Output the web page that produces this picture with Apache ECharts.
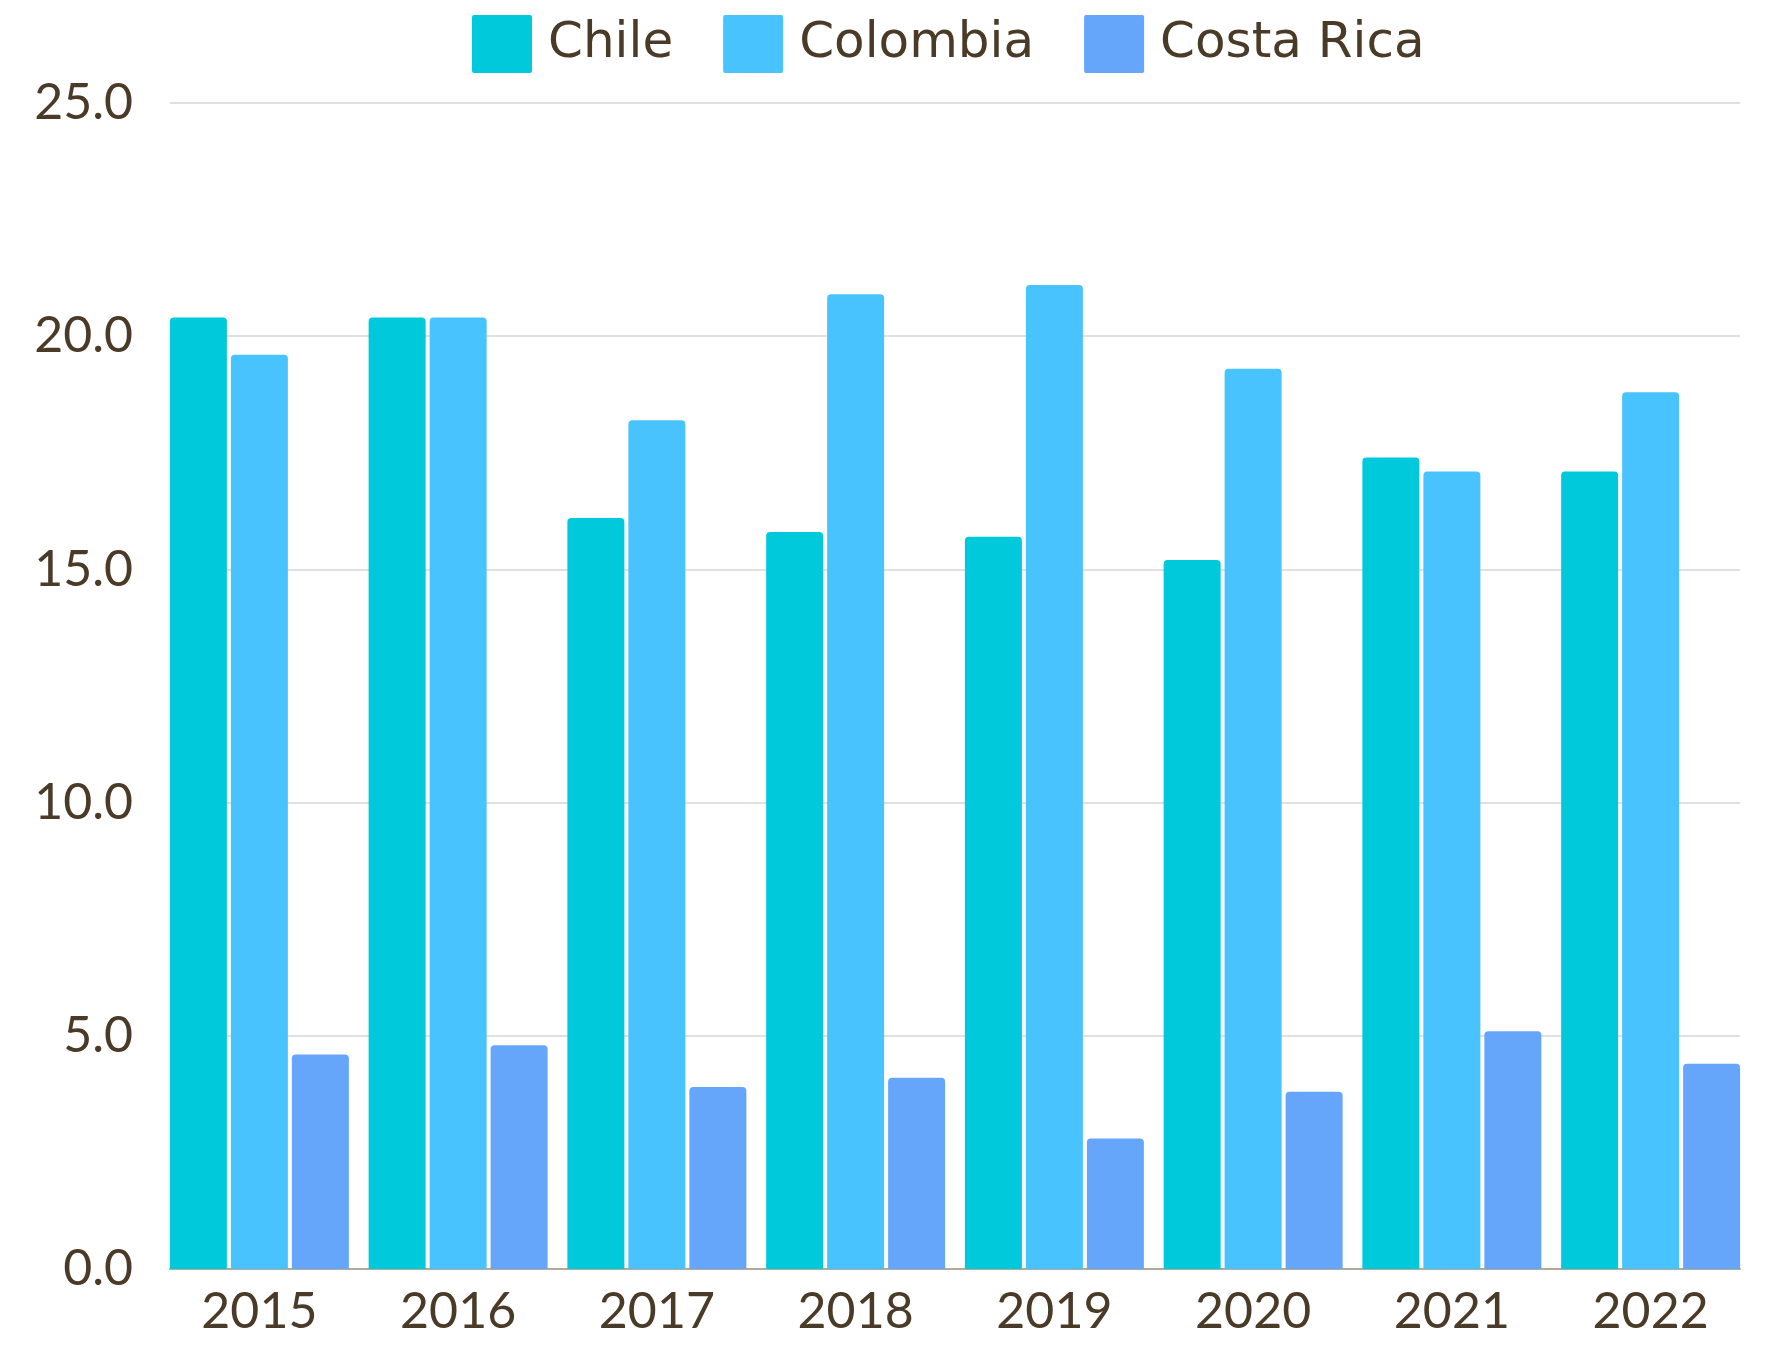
<!DOCTYPE html>
<html>
<head>
<meta charset="utf-8">
<script src="https://cdn.jsdelivr.net/npm/echarts@6/dist/echarts.min.js"></script>
<style>
  html, body { margin: 0; padding: 0; background: #fff; }
  #chart { width: 1776px; height: 1345px; }
</style>
</head>
<body>
<div id="chart"></div>
<script>
const years = ["2015", "2016", "2017", "2018", "2019", "2020", "2021", "2022"];
const chile = [20.4, 20.4, 16.1, 15.8, 15.7, 15.2, 17.4, 17.1];
const colombia = [19.6, 20.4, 18.2, 20.9, 21.1, 19.3, 17.1, 18.8];
const costaRica = [4.6, 4.8, 3.9, 4.1, 2.8, 3.8, 5.1, 4.4];
const seriesNames = ["Chile", "Colombia", "Costa Rica"];
const colors = ["#00C9DB", "#48C3FE", "#65A6FA"];

const textColor = "#4A3B28";
const fontFamily = "Lato, 'Noto Sans', sans-serif";
const legendFont = "'DejaVu Sans', sans-serif";

const chart = echarts.init(document.getElementById("chart"));

const barSeries = [chile, colombia, costaRica].map((values, i) => ({
  name: seriesNames[i],
  type: "bar",
  xAxisIndex: 1,
  yAxisIndex: 1,
  data: values,
  barWidth: 57,
  barGap: "7%",
  itemStyle: { color: colors[i], borderRadius: [4, 4, 0, 0] },
}));

const option = {
  animation: false,
  backgroundColor: "#fff",
  color: colors,
  textStyle: { fontFamily },
  legend: {
    left: 467,
    top: 10,
    itemWidth: 60,
    itemHeight: 58,
    itemGap: 50,
    icon: "path://M2,0 H58 Q60,0 60,2 V56 Q60,58 58,58 H2 Q0,58 0,56 V2 Q0,0 2,0 Z",
    textStyle: { color: textColor, fontSize: 50, fontFamily: legendFont, padding: [6, 0, 0, 11] },
    data: seriesNames,
  },
  grid: [
    { left: 170, right: 36, top: 103, bottom: 76 },
    { left: 160, right: 26, top: 103, bottom: 76 },
  ],
  xAxis: [
    {
      gridIndex: 0,
      type: "category",
      data: years,
      axisLine: { lineStyle: { color: "#b3aa9c", width: 2 } },
      axisTick: { show: false },
      axisLabel: { show: false },
    },
    {
      gridIndex: 1,
      type: "category",
      data: years,
      axisLine: { show: false },
      axisTick: { show: false },
      axisLabel: { color: textColor, fontSize: 50, fontFamily, margin: 18 },
    },
  ],
  yAxis: [
    {
      gridIndex: 0,
      type: "value",
      min: 0,
      max: 25,
      interval: 5,
      axisLine: { show: false },
      axisTick: { show: false },
      axisLabel: {
        color: textColor,
        fontSize: 50,
        fontFamily,
        margin: 37,
        formatter: (v) => v.toFixed(1),
      },
      splitLine: { lineStyle: { color: "#d6d6d6", width: 1.5 } },
    },
    { gridIndex: 1, type: "value", min: 0, max: 25, interval: 5, show: false },
  ],
  series: barSeries,
};

chart.setOption(option);
</script>
</body>
</html>
